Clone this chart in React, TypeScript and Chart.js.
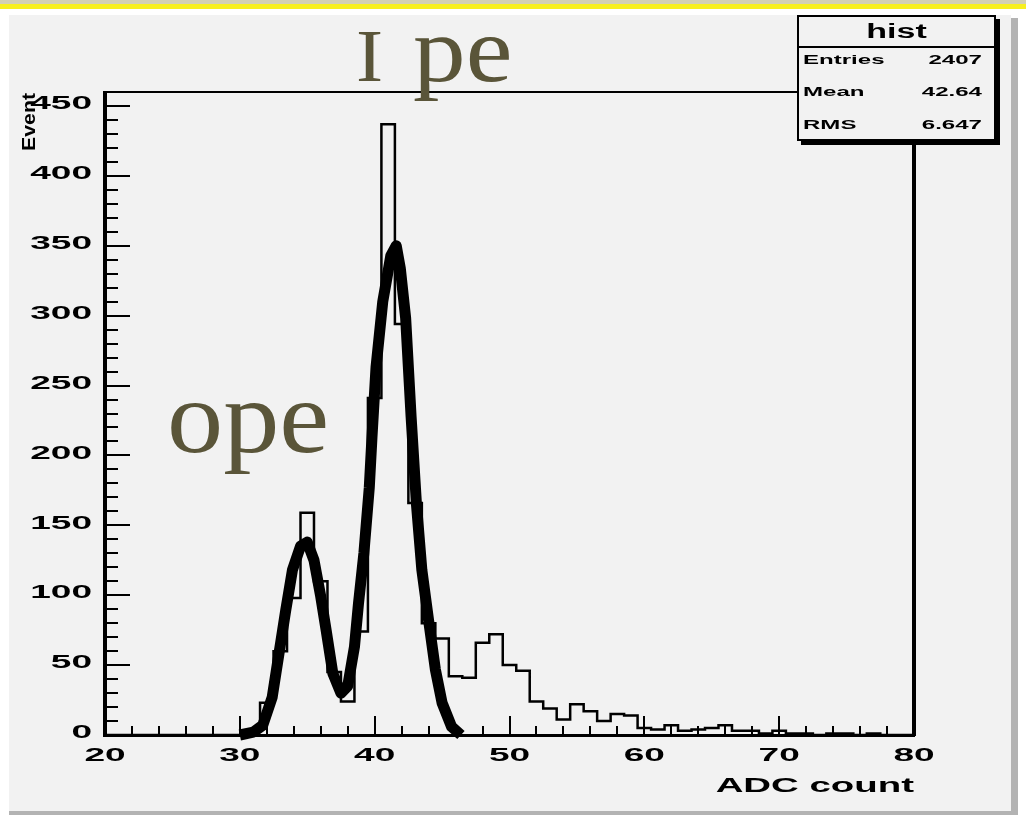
import React, { useEffect, useRef } from "react";
import { Chart, registerables } from "chart.js";

Chart.register(...registerables);

// Histogram bins (centre of each 1-ADC-count bin) and their entries
const binCenters = [
  20, 21, 22, 23, 24, 25, 26, 27, 28, 29, 30, 31, 32, 33, 34, 35, 36, 37, 38, 39, 40,
  41, 42, 43, 44, 45, 46, 47, 48, 49, 50, 51, 52, 53, 54, 55, 56, 57, 58, 59, 60,
  61, 62, 63, 64, 65, 66, 67, 68, 69, 70, 71, 72, 73, 74, 75, 76, 77, 78, 79, 80,
];
const binCounts = [
  0, 0, 0, 0, 0, 0, 0, 0, 0, 0, 0, 3, 23, 60, 98, 159, 110, 45, 24, 74, 241,
  437, 294, 166, 80, 69, 42, 41, 66, 72, 50, 46, 24, 19, 11, 22, 17, 10, 15, 14, 5,
  4, 7, 3, 4, 5, 7, 3, 3, 1, 3, 1, 1, 0, 1, 1, 0, 1, 0, 0, 0,
];

// Double-peak fit curve (0 pe and 1 pe), sampled points
const fitX = [
  30.0, 31.0, 31.7, 32.4, 32.9, 33.4, 33.9, 34.5, 35.0, 35.5, 36.0, 36.4, 36.9, 37.5,
  38.0, 38.5, 38.8, 39.2, 39.6, 39.8, 40.1, 40.6, 41.2, 41.6, 41.9, 42.3, 42.7, 43.1,
  43.5, 44.0, 44.5, 45.0, 45.7, 46.4,
];
const fitY = [
  0, 2, 7, 27, 58, 89, 118, 135, 138, 125, 99, 75, 44, 30,
  35, 63, 94, 130, 177, 213, 263, 310, 343, 350, 334, 298, 228, 165,
  118, 82, 47, 23, 6, 0,
];

const xTickLabels = [20, 30, 40, 50, 60, 70, 80];
const yTickLabels = [0, 50, 100, 150, 200, 250, 300, 350, 400, 450];
const statsTitle = "hist";
const statsNames = ["Entries", "Mean", "RMS"];
const statsValues = ["2407", "42.64", "6.647"];

const SANS = "'Liberation Sans', Arial, sans-serif";
const SERIF = "'Liberation Serif', 'DejaVu Serif', serif";
const OLIVE = "#5a5539";

function wideText(
  ctx: CanvasRenderingContext2D,
  text: string,
  x: number,
  y: number,
  font: string,
  sx: number,
  align: CanvasTextAlign,
  baseline: CanvasTextBaseline = "middle",
  color = "#000"
) {
  ctx.save();
  ctx.translate(x, y);
  ctx.scale(sx, 1);
  ctx.font = font;
  ctx.textAlign = align;
  ctx.textBaseline = baseline;
  ctx.fillStyle = color;
  ctx.fillText(text, 0, 0);
  ctx.restore();
}

const rootStyle = {
  id: "rootStyle",
  beforeDraw(chart: any) {
    const ctx: CanvasRenderingContext2D = chart.ctx;
    const W = chart.width;
    const H = chart.height;
    ctx.save();
    ctx.fillStyle = "#ffffff";
    ctx.fillRect(0, 0, W, H);
    ctx.fillStyle = "#d3d0b4";
    ctx.fillRect(0, 0, W, 4);
    ctx.fillStyle = "#f7ef1f";
    ctx.fillRect(0, 4, W, 5);
    // pad
    ctx.fillStyle = "#f2f2f2";
    ctx.fillRect(9, 15, 1002, 796);
    // pad bevel
    ctx.fillStyle = "#b3b3b3";
    ctx.fillRect(1011, 18, 7, 797);
    ctx.fillRect(9, 811, 1009, 4);
    ctx.restore();
  },
  afterDatasetsDraw(chart: any) {
    const ctx: CanvasRenderingContext2D = chart.ctx;
    const { left, right, top, bottom } = chart.chartArea;
    const xs = chart.scales.x;
    const ys = chart.scales.y;
    ctx.save();
    ctx.fillStyle = "#000";

    // frame
    ctx.fillRect(left - 2, top - 1, 4, bottom - top + 3);
    ctx.fillRect(left - 2, bottom - 1, right - left + 3, 3);
    ctx.fillRect(left, top - 1, right - left, 2);
    ctx.fillRect(right - 2, top, 4, bottom - top + 1);

    // y ticks, drawn inside the frame
    for (let v = 0; v <= 450; v += 10) {
      const y = Math.round(ys.getPixelForValue(v));
      const len = v % 50 === 0 ? 25 : 13;
      ctx.fillRect(left, y - 1, len, 2);
    }
    // x ticks
    for (let v = 20; v <= 80; v += 2) {
      const x = Math.round(xs.getPixelForValue(v));
      const len = v % 10 === 0 ? 19 : 9;
      ctx.fillRect(x - 1, bottom - len, 2, len);
    }

    // tick labels
    const tickFont = `bold 19px ${SANS}`;
    yTickLabels.forEach((v) => {
      wideText(ctx, String(v), 92, ys.getPixelForValue(v) - 2, tickFont, 1.95, "right");
    });
    xTickLabels.forEach((v) => {
      wideText(ctx, String(v), xs.getPixelForValue(v), 756, tickFont, 1.95, "center");
    });

    // axis titles
    wideText(ctx, "ADC count", right, 786, `bold 20px ${SANS}`, 1.92, "right");
    ctx.save();
    ctx.translate(30, 93);
    ctx.rotate(-Math.PI / 2);
    wideText(ctx, "Event", 0, 0, `bold 19px ${SANS}`, 1.12, "right");
    ctx.restore();

    // statistics box
    const bx = 797, by = 15, bw = 199, bh = 126;
    ctx.fillStyle = "#000";
    ctx.fillRect(bx + 4, by + 4, bw, bh);
    ctx.fillStyle = "#f2f2f2";
    ctx.fillRect(bx, by, bw, bh);
    ctx.strokeStyle = "#000";
    ctx.lineWidth = 2;
    ctx.strokeRect(bx + 1, by + 1, bw - 2, bh - 2);
    ctx.fillStyle = "#000";
    ctx.fillRect(bx, by + 31, bw, 2);
    wideText(ctx, statsTitle, bx + bw / 2, 32, `bold 20px ${SANS}`, 1.7, "center");
    const rowY = [60, 92, 125];
    statsNames.forEach((name, i) => {
      wideText(ctx, name, 803, rowY[i], `bold 13px ${SANS}`, 1.85, "left");
      wideText(ctx, statsValues[i], 982, rowY[i], `bold 13px ${SANS}`, 1.85, "right");
    });

    // peak annotations
    wideText(ctx, "I", 356, 81, `74px ${SERIF}`, 1.1, "left", "alphabetic", OLIVE);
    wideText(ctx, "pe", 413, 81, `94px ${SERIF}`, 1.12, "left", "alphabetic", OLIVE);
    wideText(ctx, "ope", 167, 452, `104px ${SERIF}`, 1.08, "left", "alphabetic", OLIVE);

    ctx.restore();
  },
};

export default function App() {
  const canvasRef = useRef<HTMLCanvasElement | null>(null);

  useEffect(() => {
    if (!canvasRef.current) return;
    const chart = new Chart(canvasRef.current, {
      type: "line",
      data: {
        datasets: [
          {
            label: "fit",
            data: fitX.map((x, i) => ({ x, y: fitY[i] })),
            borderColor: "#000",
            borderWidth: 11,
            borderJoinStyle: "round",
            borderCapStyle: "butt",
            pointRadius: 0,
            fill: false,
            tension: 0,
            clip: false,
            order: 0,
          },
          {
            label: "hist",
            data: binCenters.map((x, i) => ({ x, y: binCounts[i] })),
            borderColor: "#000",
            borderWidth: 2.5,
            stepped: "middle",
            pointRadius: 0,
            fill: false,
            order: 1,
          },
        ],
      },
      options: {
        animation: false,
        responsive: true,
        maintainAspectRatio: false,
        layout: { padding: { left: 105, right: 112, top: 92, bottom: 86 } },
        scales: {
          x: { type: "linear", min: 20, max: 80, display: false },
          y: { type: "linear", min: 0, max: 460, display: false },
        },
        plugins: {
          legend: { display: false },
          tooltip: { enabled: false },
        },
      },
      plugins: [rootStyle],
    } as any);
    return () => chart.destroy();
  }, []);

  return (
    <div style={{ position: "fixed", left: 0, top: 0, width: 1026, height: 821 }}>
      <canvas ref={canvasRef} style={{ display: "block" }} />
    </div>
  );
}
